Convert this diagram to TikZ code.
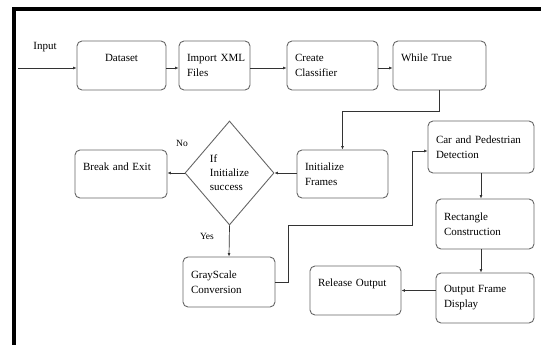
\documentclass[tikz,border=0pt]{standalone}
\usepackage{fontspec}
\setmainfont{Liberation Serif}
\usetikzlibrary{shapes.geometric,arrows.meta}
\begin{document}
\begin{tikzpicture}[x=1pt,y=-1pt,
  box/.style={draw=black!60, line width=0.9pt, rounded corners=5pt, align=left,
    text width=#1, inner xsep=8pt, inner ysep=0pt, minimum height=49pt,
    font=\fontsize{11}{15}\selectfont},
  dec/.style={diamond, draw=black!60, line width=0.9pt, inner sep=0pt,
    minimum width=89pt, minimum height=104pt, align=left,
    font=\fontsize{11}{14}\selectfont},
  arr/.style={draw=black!80, line width=0.7pt, -{Latex[length=3.5pt,width=3pt]}},
  lbl/.style={font=\fontsize{9.5}{11}\selectfont}]
  \useasboundingbox (0,0) rectangle (541,345);
  % frame of the figure
  \draw[line width=4pt] (14,345) -- (14,9) -- (541,9);

  % top row
  \node[font=\fontsize{11}{13}\selectfont] (inlbl) at (45,47) {Input};
  \coordinate (in) at (18,68);
  \node[box=73pt, align=center] (dataset) at (121.5,65.5) {Dataset\\~};
  \node[box=55pt] (import) at (214.5,65.5) {\mbox{Import XML}\\Files};
  \node[box=75pt] (create) at (332.5,65.5) {Create\\Classifier};
  \node[box=77pt] (while) at (439.5,65.5) {While~True\\~};

  % middle row
  \node[box=75pt, minimum height=48pt] (init) at (342.5,174) {Initialize\\Frames};
  \node[dec] (dec) at (229.5,173) {If\\Initialize\\success};
  \node[box=76pt, minimum height=48pt] (break) at (121,174) {Break~and~Exit\\~};
  \node[lbl] (nolbl) at (182,143) {No};
  \node[lbl] (yeslbl) at (207,236) {Yes};
  \node[box=76pt, minimum height=50pt] (gray) at (229,282) {GrayScale\\Conversion};

  % right column
  \node[box=90pt, minimum height=52pt] (car) at (481,147) {Car~and~Pedestrian\\Detection};
  \node[box=82pt, minimum height=50pt] (rect) at (485,224) {Rectangle\\Construction};
  \node[box=82pt, minimum height=50pt] (output) at (485,298) {Output~Frame\\Display};
  \node[box=75pt] (release) at (355.5,290.5) {Release~Output\\~};
  \coordinate (bend) at (412,225);

  \draw[arr] (in) -- (dataset.west |- in);
  \draw[arr] (dataset.east |- in) -- (import.west |- in);
  \draw[arr] (import.east |- in) -- (create.west |- in);
  \draw[arr] (create.east |- in) -- (while.west |- in);
  \draw[arr] (while.south) -- ++(0,21) -| (init.north);
  \draw[arr] (init.west |- dec.east) -- (dec.east);
  \draw[arr] (dec.west) -- (break.east |- dec.west);
  \draw[arr] (dec.south) -- (gray.north);
  \draw[arr] (gray.east) -- ++(13,0) |- (bend) -- ([yshift=-4pt]bend |- car.west) -- ([yshift=-4pt]car.west);
  \draw[arr] (car.south) -- (car.south |- rect.north);
  \draw[arr] (rect.south -| car.south) -- (car.south |- output.north);
  \draw[arr] (release.east -| output.west) -- (release.east);
\end{tikzpicture}
\end{document}
